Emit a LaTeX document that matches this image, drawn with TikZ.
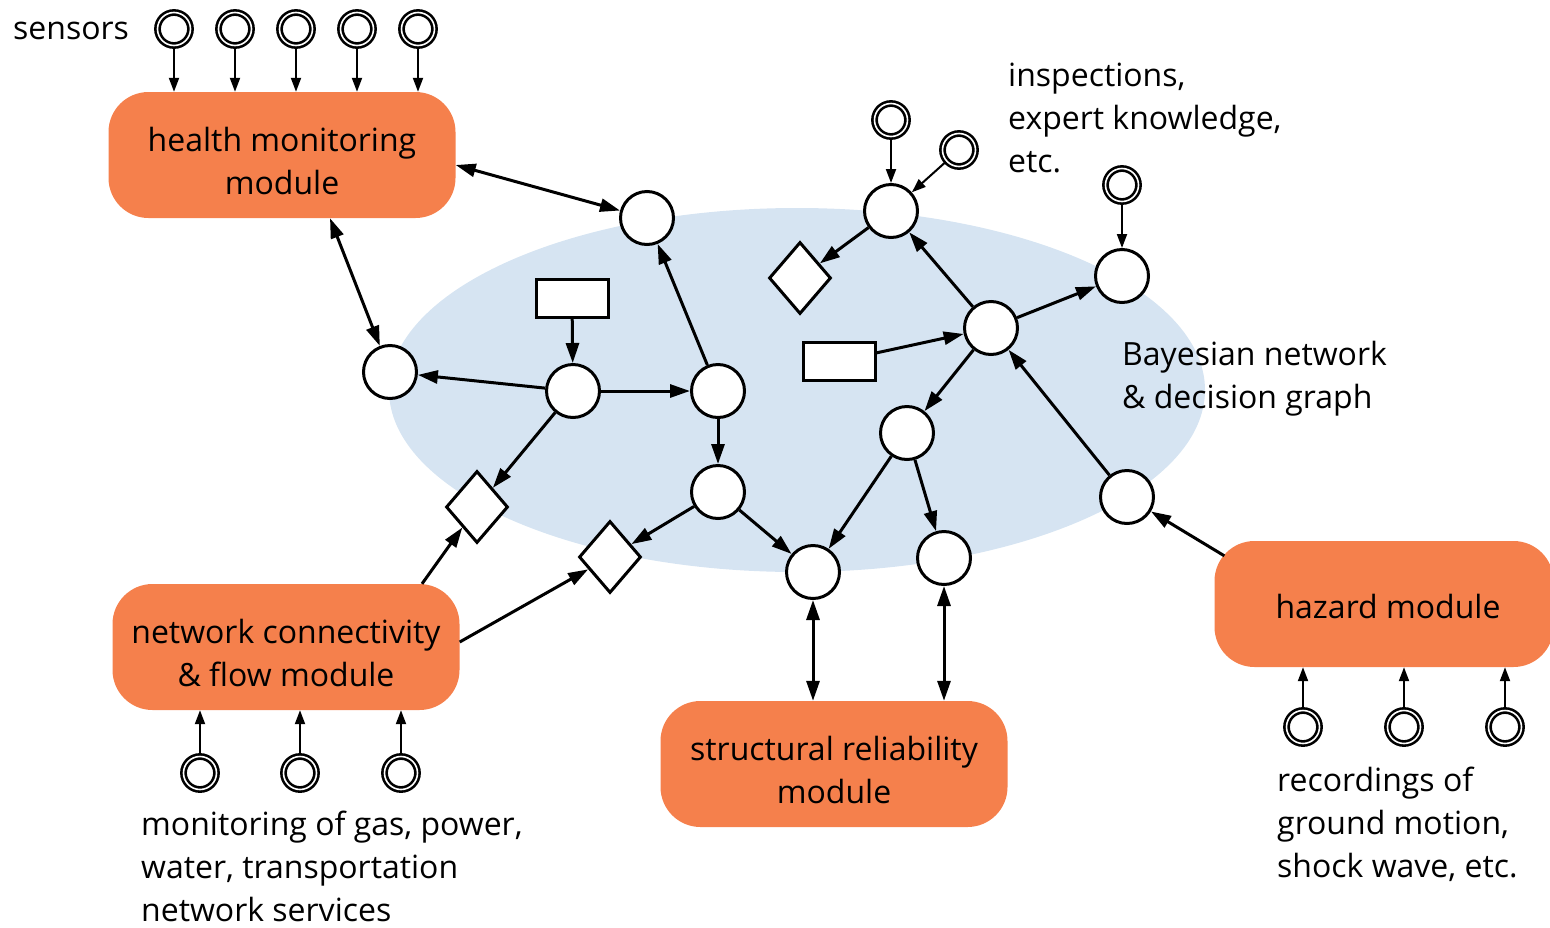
\documentclass[tikz,border=0pt]{standalone}
\usepackage{fontspec}
\setmainfont{Open Sans}
\usetikzlibrary{arrows.meta,shapes.geometric}
\definecolor{modorange}{RGB}{245,128,76}
\definecolor{netblue}{RGB}{214,228,242}
\begin{document}
\begin{tikzpicture}[x=1pt,y=-1pt,
  every node/.style={font=\fontsize{32}{43}\selectfont},
  module/.style={fill=modorange, rounded corners=40pt, minimum width=347pt, minimum height=126pt, inner sep=0pt},
  modtext/.style={align=center, inner sep=0pt},
  var/.style={circle, draw, fill=white, line width=3pt, minimum size=53pt, inner sep=0pt},
  obs/.style={circle, draw, fill=white, line width=2.6pt, double=white, double distance=1.6pt, minimum size=33pt, inner sep=0pt},
  act/.style={rectangle, draw, fill=white, line width=3pt, minimum width=72pt, minimum height=38pt, inner sep=0pt},
  util/.style={diamond, draw, fill=white, line width=3pt, minimum width=62pt, minimum height=72pt, inner sep=0pt},
  link/.style={line width=3pt, -{Triangle[length=20pt,width=13pt]}},
  dlink/.style={line width=3pt, {Triangle[length=20pt,width=13pt]}-{Triangle[length=20pt,width=13pt]}},
  feed/.style={line width=2pt, -{Triangle[length=14pt,width=10pt]}},
  note/.style={align=left, anchor=west, inner sep=0pt}
]
\useasboundingbox (0,0) rectangle (1550,927);

% the Bayesian network region
\fill[netblue] (797,390) ellipse [x radius=408, y radius=182];

% modules
\node[module] (hm) at (282,155) {};
\node[module] (nc) at (286,647) {};
\node[module] (sr) at (834,764) {};
\node[module, minimum width=339pt] (hz) at (1384,604) {};
\node[modtext] at ([yshift=-6pt]hm.center) {health monitoring\\module};
\node[modtext] at ([yshift=-6pt]nc.center) {network connectivity\\\& flow module};
\node[modtext] at ([yshift=-6pt]sr.center) {structural reliability\\module};
\node[modtext] at ([shift={(4pt,-2pt)}]hz.center) {hazard module};

% chance nodes
\node[var] (a) at (647,218) {};
\node[var] (b) at (390,372) {};
\node[var] (c) at (573,391) {};
\node[var] (d) at (718,391) {};
\node[var] (e) at (718,492) {};
\node[var] (f) at (813,572) {};
\node[var] (g) at (907,433) {};
\node[var] (h) at (944,558) {};
\node[var] (i) at (991,328) {};
\node[var] (j) at (891,211) {};
\node[var] (k) at (1122,276) {};
\node[var] (l) at (1127,497) {};

% decision nodes
\node[act] (r1) at (572,298) {};
\node[act] (r2) at (839,361) {};

% utility nodes
\node[util] (u1) at (477,507) {};
\node[util] (u2) at (610,557) {};
\node[util] (u3) at (800,278) {};

% observations
\foreach \n/\x in {1/174,2/235,3/296,4/357,5/418}
  \node[obs] (s\n) at (\x,29) {};
\node[obs] (o1) at (891,120) {};
\node[obs] (o2) at (959,150) {};
\node[obs] (o3) at (1122,185) {};
\foreach \n/\x in {1/200,2/300,3/401}
  \node[obs] (n\n) at (\x,773) {};
\foreach \n/\x in {1/1303,2/1404,3/1505}
  \node[obs] (q\n) at (\x,727) {};

% texts
\node[note] at (13,31) {sensors};
\node[note] at (1008,118) {inspections,\\expert knowledge,\\etc.};
\node[note] at (1122,379) {Bayesian network\\\& decision graph};
\node[note] at (141,866) {monitoring of gas, power,\\water, transportation\\network services};
\node[note] at (1277,824) {recordings of\\ground motion,\\shock wave, etc.};

% observation feeds
\foreach \n in {1,...,5}
  \draw[feed] (s\n) -- (s\n |- hm.north);
\foreach \n in {1,2,3}
  \draw[feed] (n\n) -- (n\n |- nc.south);
\foreach \n in {1,2,3}
  \draw[feed] (q\n) -- (q\n |- hz.south);
\draw[feed] (o1) -- (j);
\draw[feed] (o2) -- (j);
\draw[feed] (o3) -- (k);

% module couplings
\draw[dlink] ([yshift=-10pt]hm.east) -- (a);
\draw[dlink] ([xshift=48pt]hm.south) -- (b);
\draw[link] ([xshift=136pt]nc.north) -- (u1);
\draw[link] ([yshift=5pt]nc.east) -- (u2);
\draw[dlink] (f) -- (f |- sr.north);
\draw[dlink] (h) -- (h |- sr.north);
\draw[link] ([shift={(10pt,-15pt)}]hz.north west) -- (l);

% network arcs
\draw[link] (r1) -- (c);
\draw[link] (c) -- (b);
\draw[link] (c) -- (d);
\draw[link] (c) -- (u1);
\draw[link] (d) -- (a);
\draw[link] (d) -- (e);
\draw[link] (e) -- (u2);
\draw[link] (e) -- (f);
\draw[link] (g) -- (f);
\draw[link] (g) -- (h);
\draw[link] (i) -- (g);
\draw[link] (i) -- (j);
\draw[link] (i) -- (k);
\draw[link] (r2) -- (i);
\draw[link] (j) -- (u3);
\draw[link] (l) -- (i);
\end{tikzpicture}
\end{document}
